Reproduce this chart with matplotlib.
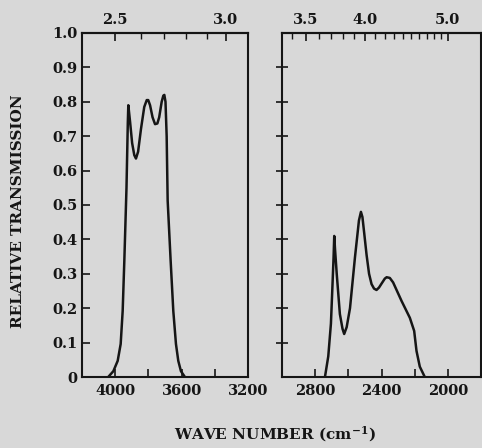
import numpy as np
import matplotlib
matplotlib.use('Agg')
import matplotlib.pyplot as plt

# data (wave number cm-1, relative transmission)
wn_left = [4042, 4011, 3985, 3967, 3955, 3945, 3932, 3924, 3921, 3910, 3898, 3885, 3875,
           3862, 3845, 3825, 3810, 3801, 3790, 3775, 3760, 3746, 3735, 3720, 3710, 3704,
           3697, 3690, 3684, 3666, 3650, 3634, 3620, 3604, 3580]
tr_left = [0.0, 0.017, 0.047, 0.096, 0.192, 0.338, 0.55, 0.74, 0.79, 0.74, 0.68, 0.645, 0.635,
           0.655, 0.72, 0.785, 0.805, 0.805, 0.79, 0.755, 0.735, 0.737, 0.755, 0.8, 0.818, 0.82,
           0.80, 0.70, 0.513, 0.338, 0.192, 0.096, 0.047, 0.017, 0.0]

wn_right = [2741, 2721, 2705, 2697, 2689, 2685, 2680, 2670, 2651, 2635, 2625, 2610, 2590,
            2560, 2536, 2524, 2515, 2504, 2490, 2475, 2460, 2445, 2430, 2415, 2399, 2380,
            2369, 2350, 2330, 2279, 2229, 2203, 2189, 2169, 2139]
tr_right = [0.0, 0.06, 0.155, 0.25, 0.348, 0.41, 0.37, 0.30, 0.183, 0.14, 0.125, 0.145, 0.2,
            0.348, 0.455, 0.48, 0.465, 0.417, 0.355, 0.300, 0.270, 0.257, 0.253, 0.260, 0.272, 0.286,
            0.29, 0.288, 0.275, 0.221, 0.172, 0.134, 0.076, 0.03, 0.0]

ytick_vals = [0, 0.1, 0.2, 0.3, 0.4, 0.5, 0.6, 0.7, 0.8, 0.9, 1.0]
ytick_labels = ['0', '0.1', '0.2', '0.3', '0.4', '0.5', '0.6', '0.7', '0.8', '0.9', '1.0']

left_wn_ticks = [4000, 3800, 3600, 3400, 3200]
left_wn_labels = ['4000', '', '3600', '', '3200']
right_wn_ticks = [2800, 2600, 2400, 2200, 2000]
right_wn_labels = ['2800', '', '2400', '', '2000']

left_um_major = [2.5, 3.0]
left_um_minor = [2.6, 2.7, 2.8, 2.9]
right_um_major = [3.5, 4.0, 5.0]
right_um_minor = [3.4, 3.6, 3.7, 3.8, 3.9, 4.1, 4.2, 4.3, 4.4, 4.5, 4.6, 4.7, 4.8, 4.9]

bg = '#d8d8d8'
ink = '#151515'

plt.rcParams['font.family'] = 'DejaVu Serif'
plt.rcParams['font.weight'] = 'bold'
plt.rcParams['mathtext.fontset'] = 'dejavuserif'
plt.rcParams['mathtext.default'] = 'bf'
plt.rcParams['text.color'] = ink
plt.rcParams['xtick.color'] = ink
plt.rcParams['ytick.color'] = ink


def inv(x):
    x = np.asarray(x, dtype=float)
    with np.errstate(divide='ignore', invalid='ignore'):
        return 1e4 / x


fig = plt.figure(figsize=(4.82, 4.48), dpi=100, facecolor=bg)
ax1 = fig.add_axes([82 / 482, 71 / 448, 166 / 482, 344 / 448], facecolor=bg)
ax2 = fig.add_axes([282 / 482, 71 / 448, 199 / 482, 344 / 448], facecolor=bg)

ax1.plot(wn_left, tr_left, color=ink, lw=1.8)
ax2.plot(wn_right, tr_right, color=ink, lw=1.8)

ax1.set_xlim(4200, 3200)
ax2.set_xlim(3000, 1800)
for ax in (ax1, ax2):
    ax.set_ylim(0, 1.0)
    for s in ax.spines.values():
        s.set_linewidth(1.5)
        s.set_color(ink)

# left panel axes
ax1.set_yticks(ytick_vals)
ax1.set_yticklabels(ytick_labels, fontsize=10.5, fontweight='bold')
ax1.tick_params(axis='y', direction='in', length=6, width=1.2, pad=3)
ax1.set_xticks(left_wn_ticks)
ax1.set_xticklabels(left_wn_labels, fontsize=10.5, fontweight='bold')
ax1.tick_params(axis='x', direction='in', length=6, width=1.2, pad=5)

# right panel axes
ax2.set_yticks(ytick_vals[1:-1])
ax2.set_yticklabels([])
ax2.tick_params(axis='y', direction='inout', length=9, width=1.2)
ax2.set_xticks(right_wn_ticks)
ax2.set_xticklabels(right_wn_labels, fontsize=10.5, fontweight='bold')
ax2.tick_params(axis='x', direction='in', length=6, width=1.2, pad=5)

# wavelength (micron) scales on top
for ax, maj, mnr in ((ax1, left_um_major, left_um_minor),
                     (ax2, right_um_major, right_um_minor)):
    sec = ax.secondary_xaxis('top', functions=(inv, inv))
    sec.set_xticks(maj)
    sec.set_xticklabels(['%.1f' % v for v in maj], fontsize=10.5, fontweight='bold')
    sec.set_xticks(mnr, minor=True)
    sec.tick_params(which='major', direction='in', length=6, width=1.2, pad=4)
    sec.tick_params(which='minor', direction='in', length=4, width=1.0)
    sec.spines['top'].set_linewidth(1.5)

fig.text(18 / 482, 1 - 211 / 448, 'RELATIVE TRANSMISSION', rotation=90,
         ha='center', va='center', fontsize=11, fontweight='bold')
fig.text(275 / 482, 1 - 434 / 448, r'WAVE NUMBER (cm$^{-1}$)',
         ha='center', va='center', fontsize=11, fontweight='bold')

plt.savefig('out.png', dpi=100, facecolor=bg)
